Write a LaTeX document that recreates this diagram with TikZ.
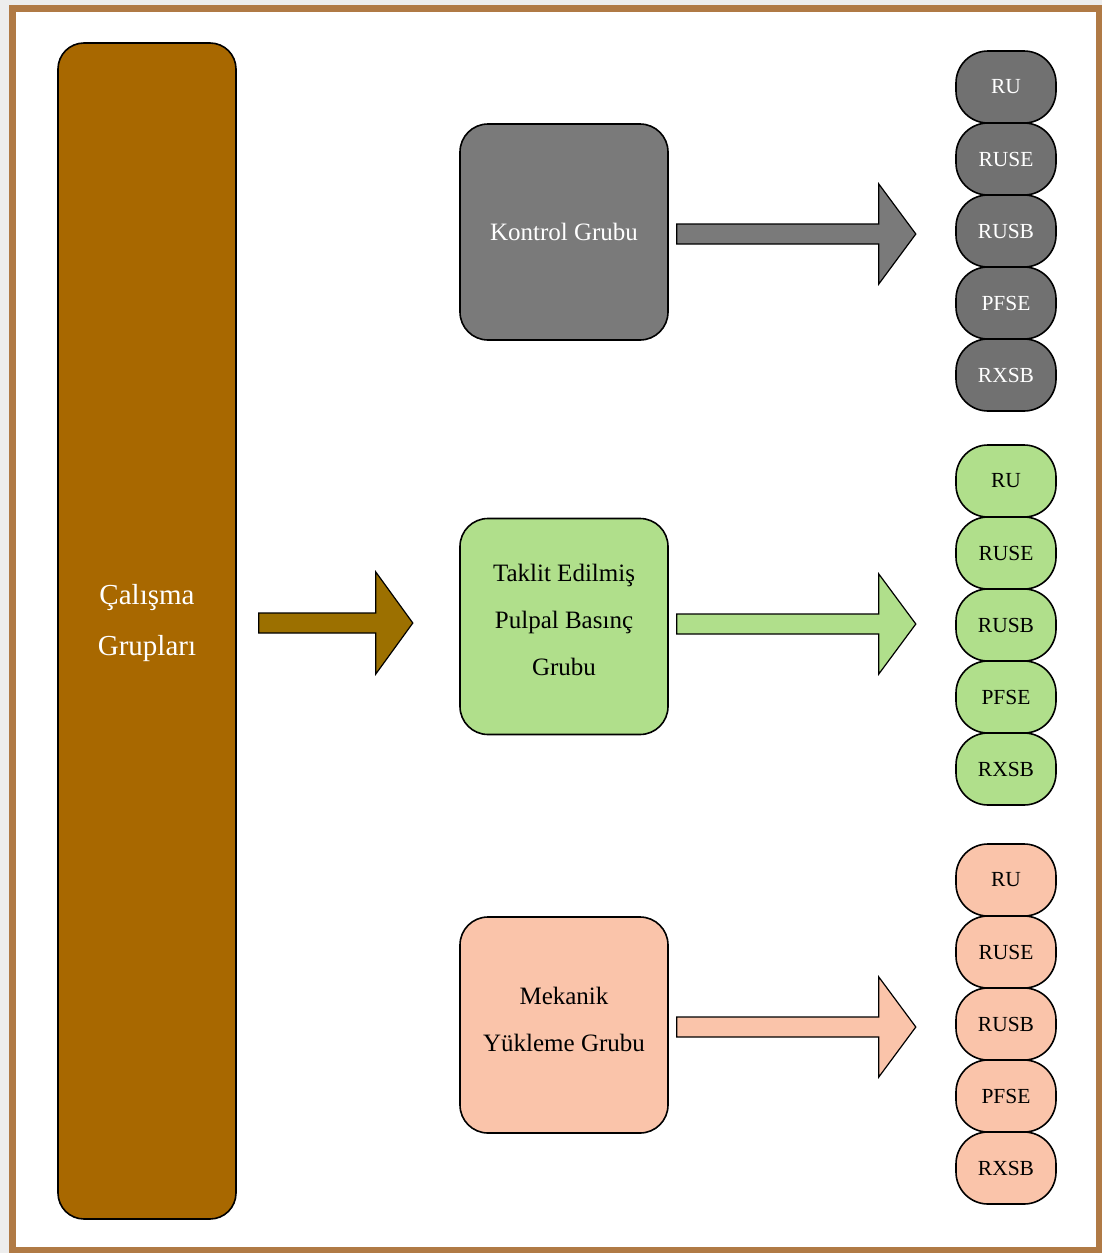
\documentclass[tikz,border=0pt]{standalone}
\usepackage{fontspec}
\setmainfont{Liberation Serif}
\usetikzlibrary{calc}
\definecolor{framebrown}{HTML}{B07A45}
\definecolor{barbrown}{HTML}{A86800}
\definecolor{arrowbrown}{HTML}{9C7000}
\definecolor{boxgray}{HTML}{7A7A7A}
\definecolor{pillgray}{HTML}{717171}
\definecolor{boxgreen}{HTML}{B0DF8B}
\definecolor{boxsalmon}{HTML}{FAC4AA}
\definecolor{shadowgray}{HTML}{EDEDED}
\tikzset{
  box/.style={draw=black, line width=1.6pt, rounded corners=28pt, minimum width=208pt, minimum height=216pt, inner sep=0pt},
  boxtext/.style={align=center, font=\fontsize{25}{47}\selectfont, inner sep=0pt},
  pill/.style={draw=black, line width=1.6pt, rounded corners=32pt, minimum width=100pt, minimum height=72pt, font=\fontsize{21.5}{24}\selectfont, inner sep=0pt},
  blockarrow/.style={draw=black, line width=1.2pt, line join=miter},
}
\begin{document}
\begin{tikzpicture}[x=1pt, y=-1pt]
  \useasboundingbox (0,0) rectangle (1102,1253);
  \fill[shadowgray] (0,0) rectangle (1102,1253);
  \fill[white] (12,8) rectangle (1099,1250);
  \draw[framebrown, line width=7pt] (12,8) rectangle (1099,1250);

  % tall bar
  \node[draw=black, line width=1.6pt, fill=barbrown, rounded corners=26pt,
        minimum width=178pt, minimum height=1176pt, inner sep=0pt,
        label={[align=center, text=white, inner sep=0pt,
                font=\fontsize{29}{51}\selectfont, yshift=8pt]center:Çalışma\\Grupları}]
        (bar) at (147,631) {};

  % group boxes
  \node[box, fill=boxgray,
        label={[boxtext, text=white]center:Kontrol Grubu}] (k) at (564,232) {};
  \node[box, fill=boxgreen,
        label={[boxtext, yshift=7pt]center:Taklit Edilmiş\\Pulpal Basınç\\Grubu}] (t) at (564,626.5) {};
  \node[box, fill=boxsalmon,
        label={[boxtext, yshift=6pt]center:Mekanik\\Yükleme Grubu}] (m) at (564,1025) {};

  % brown arrow
  \draw[blockarrow, fill=arrowbrown] ($(bar.east)+(22,-18)$) -- ++(117,0) -- ++(0,-41)
        -- ++(37,51) -- ++(-37,51) -- ++(0,-41) -- ++(-117,0) -- cycle;

  % group arrows
  \draw[blockarrow, fill=boxgray] ($(k.east)+(8,-8)$) -- ++(202,0) -- ++(0,-40)
        -- ++(37,50) -- ++(-37,50) -- ++(0,-40) -- ++(-202,0) -- cycle;
  \draw[blockarrow, fill=boxgreen] ($(t.east)+(8,-12.5)$) -- ++(202,0) -- ++(0,-40)
        -- ++(37,50) -- ++(-37,50) -- ++(0,-40) -- ++(-202,0) -- cycle;
  \draw[blockarrow, fill=boxsalmon] ($(m.east)+(8,-8)$) -- ++(202,0) -- ++(0,-40)
        -- ++(37,50) -- ++(-37,50) -- ++(0,-40) -- ++(-202,0) -- cycle;

  % gray pills
  \node[pill, fill=pillgray, text=white] (k1) at (1006,87) {RU};
  \node[pill, fill=pillgray, text=white] (k2) at (1006,159) {RUSE};
  \node[pill, fill=pillgray, text=white] (k3) at (1006,231) {RUSB};
  \node[pill, fill=pillgray, text=white] (k4) at (1006,303) {PFSE};
  \node[pill, fill=pillgray, text=white] (k5) at (1006,375) {RXSB};

  % green pills
  \node[pill, fill=boxgreen] (t1) at (1006,481) {RU};
  \node[pill, fill=boxgreen] (t2) at (1006,553) {RUSE};
  \node[pill, fill=boxgreen] (t3) at (1006,625) {RUSB};
  \node[pill, fill=boxgreen] (t4) at (1006,697) {PFSE};
  \node[pill, fill=boxgreen] (t5) at (1006,769) {RXSB};

  % salmon pills
  \node[pill, fill=boxsalmon] (m1) at (1006,880) {RU};
  \node[pill, fill=boxsalmon] (m2) at (1006,952) {RUSE};
  \node[pill, fill=boxsalmon] (m3) at (1006,1024) {RUSB};
  \node[pill, fill=boxsalmon] (m4) at (1006,1096) {PFSE};
  \node[pill, fill=boxsalmon] (m5) at (1006,1168) {RXSB};
\end{tikzpicture}
\end{document}
